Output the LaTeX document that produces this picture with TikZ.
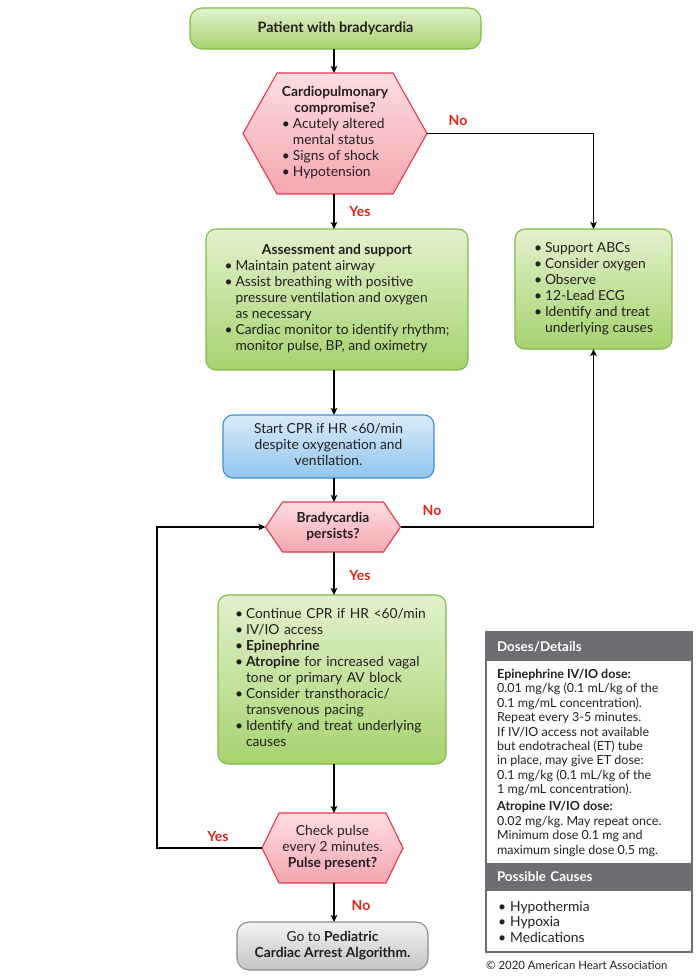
\documentclass[tikz,border=0pt]{standalone}
\usepackage{fontspec}
\setmainfont{Lato}
\usetikzlibrary{arrows.meta,backgrounds}
\frenchspacing
\definecolor{txt}{HTML}{231F20}
\definecolor{gborder}{HTML}{7DBB4B}
\definecolor{gtop}{HTML}{E2F1CD}
\definecolor{gbot}{HTML}{A7D36E}
\definecolor{rborder}{HTML}{E5364E}
\definecolor{rtop}{HTML}{FCDDE0}
\definecolor{rbot}{HTML}{F5A7B0}
\definecolor{bborder}{HTML}{3D8FD6}
\definecolor{btop}{HTML}{D8EBF9}
\definecolor{bbot}{HTML}{92C5EE}
\definecolor{kborder}{HTML}{8C8C8C}
\definecolor{ktop}{HTML}{F3F3F3}
\definecolor{kbot}{HTML}{C3C3C4}
\definecolor{hdr}{HTML}{6D6E71}
\definecolor{lblred}{HTML}{E2231A}
\newcommand\tb[1]{\begin{tabular}{@{}l@{}}#1\end{tabular}}
\newcommand\tcc[1]{\begin{tabular}{@{}c@{}}#1\end{tabular}}
\newcommand\tc[1]{\multicolumn{1}{@{}c@{}}{\textbf{#1}}}
\newcommand\bl{\makebox[11pt][l]{•}}
\newcommand\ct{\hspace*{11pt}}
\newcommand\pbl{\makebox[12pt][l]{•}}
\newcommand\hexa[2]{\shadedraw[hexshape] (#1.west) -- ([xshift=#2]#1.north west) -- ([xshift=-#2]#1.north east) -- (#1.east) -- ([xshift=-#2]#1.south east) -- ([xshift=#2]#1.south west) -- cycle;}
\begin{document}
\begin{tikzpicture}[x=1pt,y=-1pt,
  every node/.style={font=\fontsize{13.8}{16}\selectfont, text=txt},
  box/.style={rounded corners=10pt, line width=1.1pt, outer sep=0pt, inner sep=0pt},
  greenbox/.style={box, draw=gborder, top color=gtop, bottom color=gbot},
  bluebox/.style={box, draw=bborder, top color=btop, bottom color=bbot},
  graybox/.style={box, draw=kborder, top color=ktop, bottom color=kbot, rounded corners=12pt},
  hexnode/.style={outer sep=0pt, inner sep=0pt},
  hexshape/.style={draw=rborder, line width=1.1pt, top color=rtop, bottom color=rbot},
  arr/.style={line width=1.3pt, draw=black, -{Stealth[length=7pt,width=6.5pt,inset=1.5pt]}},
  lbl/.style={font=\fontsize{14}{16}\selectfont\bfseries, text=lblred},
  ptext/.style={font=\fontsize{12.5}{14.4}\selectfont, anchor=west, inner sep=0pt, align=left},
  hdrbox/.style={fill=hdr, minimum height=29pt, text width=184pt, inner xsep=11pt, inner ysep=0pt, align=left, text=white, font=\fontsize{13.4}{15}\selectfont\bfseries, outer sep=0pt}
]
\useasboundingbox (0,0) rectangle (700,976);

\coordinate (spine) at (334,0);
\coordinate (loopx) at (157,0);

% main flow nodes
\node[greenbox, rounded corners=12pt, minimum width=291pt, minimum height=41pt] (top) at (335.5,28.5) {\fontsize{14.3}{16}\selectfont\textbf{Patient with bradycardia}};

\node[hexnode, minimum width=184pt, minimum height=121pt] (h1) at (335,133.5)
  {\tb{\tc{Cardiopulmonary}\\ \tc{compromise?}\\ \bl Acutely altered\\ \ct mental status\\ \bl Signs of shock\\ \bl Hypotension}};

\node[greenbox, minimum width=262pt, minimum height=141pt] (assess) at (337,299.5)
  {\tb{\tc{Assessment and support}\\ \bl Maintain patent airway\\ \bl Assist breathing with positive\\ \ct pressure ventilation and oxygen\\ \ct as necessary\\ \bl Cardiac monitor to identify rhythm;\\ \ct monitor pulse, BP, and oximetry}};

\node[greenbox, minimum width=157pt, minimum height=120pt] (rbox) at (593.5,289)
  {\tb{\bl Support ABCs\\ \bl Consider oxygen\\ \bl Observe\\ \bl 12-Lead ECG\\ \bl Identify and treat\\ \ct underlying causes}};

\node[bluebox, minimum width=211pt, minimum height=63pt] (cpr) at (328.5,446.5)
  {\tcc{Start CPR if HR <60/min\\ despite oxygenation and\\ ventilation.}};

\node[hexnode, minimum width=135pt, minimum height=50pt] (h2) at (333,527)
  {\tcc{\textbf{Bradycardia}\\ \textbf{persists?}}};

\node[greenbox, minimum height=169pt, text width=194pt, inner xsep=17pt, align=left] (cont) at (332,679.5)
  {\tb{\bl Continue CPR if HR <60/min\\ \bl IV/IO access\\ \bl \textbf{Epinephrine}\\ \bl \textbf{Atropine} for increased vagal\\ \ct tone or primary AV block\\ \bl Consider transthoracic/\\ \ct transvenous pacing\\ \bl Identify and treat underlying\\ \ct causes}};

\node[hexnode, minimum width=141pt, minimum height=70pt] (h3) at (332.5,848)
  {\tcc{Check pulse\\ every 2 minutes.\\ \textbf{Pulse present?}}};

\node[graybox, minimum width=191pt, minimum height=48pt] (gray) at (332.5,946)
  {\tcc{Go to \textbf{Pediatric}\\ \textbf{Cardiac Arrest Algorithm.}}};

\begin{scope}[on background layer]
  \hexa{h1}{34pt}
  \hexa{h2}{17pt}
  \hexa{h3}{17pt}
\end{scope}

% labels
\node[lbl] at (458,120) {No};
\node[lbl] at (360,211) {Yes};
\node[lbl] at (432,510) {No};
\node[lbl] at (360,575) {Yes};
\node[lbl] at (218,836) {Yes};
\node[lbl] at (361,905) {No};

% connectors
\draw[arr] (top.south -| spine) -- (h1.north -| spine);
\draw[arr] (h1.south -| spine) -- (assess.north -| spine);
\draw[arr] (h1.east) -| (rbox.north);
\draw[arr] (assess.south -| spine) -- (cpr.north -| spine);
\draw[arr] (cpr.south -| spine) -- (h2.north -| spine);
\draw[arr] (h2.east) -| (rbox.south);
\draw[arr] (h2.south -| spine) -- (cont.north -| spine);
\draw[arr] (cont.south -| spine) -- (h3.north -| spine);
\draw[arr] (h3.south -| spine) -- (gray.north -| spine);
\draw[arr] (h3.west) -- (h3.west -| loopx) |- (h2.west);

% doses panel
\node[hdrbox] (hd1) at (589,646.5) {Doses/Details};
\node[hdrbox, minimum height=28pt] (hd2) at (589,877) {Possible Causes};
\node[draw=hdr, line width=1.5pt, minimum width=206pt, minimum height=320pt, inner sep=0pt, outer sep=0pt] (doses) at (589,792) {};

\node[ptext] (epi) at (497,732.5) {\textbf{Epinephrine IV/IO dose:}\\
0.01 mg/kg (0.1 mL/kg of the\\
0.1 mg/mL concentration).\\
Repeat every 3-5 minutes.\\
If IV/IO access not available\\
but endotracheal (ET) tube\\
in place, may give ET dose:\\
0.1 mg/kg (0.1 mL/kg of the\\
1 mg/mL concentration).};

\node[ptext] (atr) at (497,829) {\textbf{Atropine IV/IO dose:}\\
0.02 mg/kg. May repeat once.\\
Minimum dose 0.1 mg and\\
maximum single dose 0.5 mg.};

\node[ptext, font=\fontsize{13.8}{15.5}\selectfont] (causes) at (498,921.5) {\pbl Hypothermia\\ \pbl Hypoxia\\ \pbl Medications};

\node[anchor=west, inner sep=0pt, font=\fontsize{11.4}{13}\selectfont] (copy) at (486,965) {© 2020 American Heart Association};
\end{tikzpicture}
\end{document}
